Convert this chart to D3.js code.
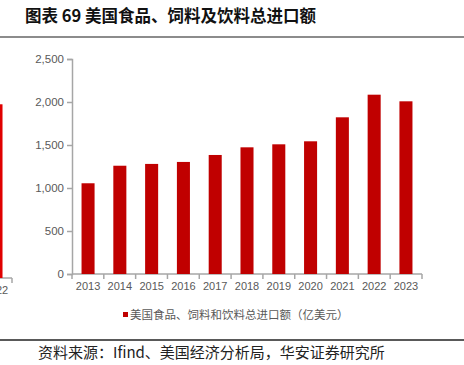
<!DOCTYPE html>
<html>
<head>
<meta charset="utf-8">
<script src="https://cdn.jsdelivr.net/npm/d3@7"></script>
<style>
  body { margin: 0; background: #fff; }
  svg { display: block; }
</style>
</head>
<body>
<div id="chart"></div>
<script>
const years = ["2013", "2014", "2015", "2016", "2017", "2018", "2019", "2020", "2021", "2022", "2023"];
const imports = [1055, 1259, 1280, 1303, 1384, 1473, 1508, 1543, 1822, 2085, 2008];
const yTicks = [0, 500, 1000, 1500, 2000, 2500];

// cropped neighbour chart on the left edge
const prevYears = ["2022"];
const prevValues = [2020];

const titleText = "图表 69 美国食品、饲料及饮料总进口额";
const legendText = "美国食品、饲料和饮料总进口额（亿美元）";
const sourceText = "资料来源：Ifind、美国经济分析局，华安证券研究所";

const W = 464, H = 365;
const barColor = "#c00000";
const axisColor = "#a6a6a6";
const labelColor = "#595959";

const svg = d3.select("#chart").append("svg")
    .attr("width", W)
    .attr("height", H);

// title + rules
svg.append("text")
    .attr("x", 25)
    .attr("y", 22)
    .attr("font-family", "'Noto Sans CJK SC', sans-serif")
    .attr("font-weight", "bold")
    .attr("font-size", 16.5)
    .attr("fill", "#111")
    .text(titleText);

svg.append("line")
    .attr("x1", 0).attr("x2", W)
    .attr("y1", 37).attr("y2", 37)
    .attr("stroke", "#666").attr("stroke-width", 1.5);

svg.append("line")
    .attr("x1", 0).attr("x2", W)
    .attr("y1", 340).attr("y2", 340)
    .attr("stroke", "#222").attr("stroke-width", 1.5);

svg.append("text")
    .attr("x", 38)
    .attr("y", 358)
    .attr("font-family", "'Noto Sans CJK SC', sans-serif")
    .attr("font-size", 15)
    .attr("fill", "#222")
    .text(sourceText);

// main chart
const x = d3.scaleBand()
    .domain(years)
    .range([72, 422])
    .paddingInner(0.59)
    .paddingOuter(0.3);

const y = d3.scaleLinear()
    .domain([0, 2500])
    .range([274, 59]);

const yAxis = svg.append("g")
    .attr("transform", "translate(72,0)")
    .call(d3.axisLeft(y).tickValues(yTicks).tickFormat(d3.format(",")).tickSize(5).tickPadding(3));

const xAxis = svg.append("g")
    .attr("transform", "translate(0,274)")
    .call(d3.axisBottom(x).tickSize(0).tickPadding(8));

[yAxis, xAxis].forEach(a => {
    a.select(".domain").attr("stroke", axisColor).attr("stroke-width", 1.5);
    a.selectAll(".tick line").attr("stroke", axisColor).attr("stroke-width", 1.5);
    a.selectAll("text")
        .attr("fill", labelColor)
        .attr("font-family", "'Liberation Sans', Arial, sans-serif")
        .attr("font-size", 11);
});
yAxis.selectAll("text").attr("font-size", 11.5);
xAxis.select(".domain").attr("d", "M72,0H422");

// tick marks between bands
const bounds = d3.range(years.length + 1).map(i => 72 + i * (350 / years.length));
xAxis.selectAll(".sep")
    .data(bounds)
    .enter().append("line")
    .attr("x1", d => d).attr("x2", d => d)
    .attr("y1", 0).attr("y2", 5)
    .attr("stroke", axisColor).attr("stroke-width", 1.5);

svg.append("g").selectAll("rect")
    .data(years)
    .enter().append("rect")
    .attr("x", d => x(d))
    .attr("y", (d, i) => y(imports[i]))
    .attr("width", x.bandwidth())
    .attr("height", (d, i) => y(0) - y(imports[i]))
    .attr("fill", barColor);

// legend
const lg = svg.append("g").attr("transform", "translate(123,312)");
lg.append("rect")
    .attr("width", 5).attr("height", 5)
    .attr("fill", barColor);
lg.append("text")
    .attr("x", 7)
    .attr("y", 6.5)
    .attr("font-family", "'Noto Sans CJK SC', sans-serif")
    .attr("font-size", 11.5)
    .attr("fill", labelColor)
    .text(legendText);

// cropped neighbouring chart at the left edge
const px = d3.scaleBand()
    .domain(prevYears)
    .range([-20, 12]);
const py = d3.scaleLinear()
    .domain([0, 2500])
    .range([278, 63]);

const pAxis = svg.append("g")
    .attr("transform", "translate(0,278)")
    .call(d3.axisBottom(px).tickSize(0).tickPadding(8));
pAxis.select(".domain").attr("d", "M-20,0H12").attr("stroke", axisColor).attr("stroke-width", 1.5);
pAxis.selectAll("text")
    .attr("fill", labelColor)
    .attr("font-family", "'Liberation Sans', Arial, sans-serif")
    .attr("font-size", 11);
pAxis.append("line")
    .attr("x1", 12).attr("x2", 12).attr("y1", 0).attr("y2", 5)
    .attr("stroke", axisColor).attr("stroke-width", 1.5);

svg.append("g").selectAll("rect")
    .data(prevYears)
    .enter().append("rect")
    .attr("x", d => px(d) + (px.bandwidth() - x.bandwidth()) / 2)
    .attr("y", (d, i) => py(prevValues[i]))
    .attr("width", x.bandwidth())
    .attr("height", (d, i) => py(0) - py(prevValues[i]))
    .attr("fill", "#e00000");
</script>
</body>
</html>
